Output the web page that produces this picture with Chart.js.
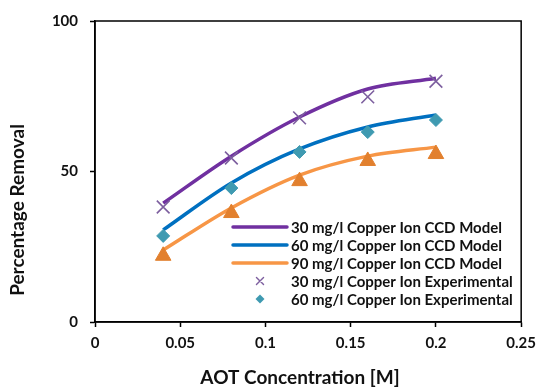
<!DOCTYPE html>
<html>
<head>
<meta charset="utf-8">
<script src="https://cdn.jsdelivr.net/npm/chart.js@4"></script>
<style>
  html, body { margin: 0; padding: 0; background: #fff; }
  #wrap { width: 543px; height: 388px; }
</style>
</head>
<body>
<div id="wrap"><canvas id="myChart"></canvas></div>
<script>
// AOT concentration [M]
var concentrations = [0.04, 0.08, 0.12, 0.16, 0.2];
// CCD model curves (percentage removal)
var model30 = [39.5, 55.1, 68.1, 77.4, 81.0];
var model60 = [30.6, 46.2, 57.5, 64.8, 68.8];
var model90 = [23.9, 37.9, 48.8, 55.1, 58.1];
// experimental points
var exp30 = [38.2, 54.5, 67.8, 74.8, 80.0];
var exp60 = [28.6, 44.5, 56.5, 63.1, 67.1];
var exp90 = [22.0, 36.2, 46.8, 53.5, 55.8];
var xTicks = [0, 0.05, 0.1, 0.15, 0.2, 0.25];
var yTicks = [0, 50, 100];
var seriesNames = ["30 mg/l Copper Ion CCD Model", "60 mg/l Copper Ion CCD Model", "90 mg/l Copper Ion CCD Model",
  "30 mg/l Copper Ion Experimental", "60 mg/l Copper Ion Experimental", "90 mg/l Copper Ion Experimental"];

var FONT = 'Lato, "Liberation Sans", sans-serif';

function pts(ys) {
  return concentrations.map(function (x, i) { return { x: x, y: ys[i] }; });
}

function lineSet(name, ys, color) {
  return { label: name, data: pts(ys), showLine: true, borderColor: color, backgroundColor: color,
    borderWidth: 3.5, tension: 0.33, pointRadius: 0, order: 5 };
}
function pointSet(name, ys, style, color, r) {
  return { label: name, data: pts(ys), showLine: false, pointStyle: style, pointRadius: r,
    borderColor: color, backgroundColor: color, pointBorderWidth: style == 'crossRot' ? 1.6 : 1, order: 1 };
}

// frame round the plot + axis titles + legend inside the plot
var extras = {
  id: 'extras',
  afterDraw: function (chart) {
    var ctx = chart.ctx, ca = chart.chartArea;
    ctx.save();
    ctx.strokeStyle = '#000';
    ctx.lineWidth = 1.5;
    ctx.strokeRect(ca.left, ca.top, ca.right - ca.left, ca.bottom - ca.top);

    ctx.fillStyle = '#111';
    ctx.font = 'bold 19px ' + FONT;
    ctx.textAlign = 'center';
    ctx.textBaseline = 'middle';
    ctx.fillText('AOT Concentration [M]', 300, 378);
    ctx.translate(18, 210);
    ctx.rotate(-Math.PI / 2);
    ctx.fillText('Percentage Removal', 0, 0);
    ctx.restore();

    // legend (90 mg/l experimental is not listed)
    ctx.save();
    ctx.font = 'bold 15px ' + FONT;
    ctx.textAlign = 'left';
    ctx.textBaseline = 'middle';
    var x0 = ca.left + 138, x1 = ca.left + 192, tx = ca.left + 196, cx = (x0 + x1) / 2;
    [0, 1, 2, 3, 4].forEach(function (di, row) {
      var ds = chart.data.datasets[di];
      var y = ca.top + 206 + row * 18;
      ctx.strokeStyle = ds.borderColor;
      ctx.fillStyle = ds.backgroundColor;
      if (ds.showLine) {
        ctx.lineWidth = 3.5;
        ctx.lineCap = 'round';
        ctx.beginPath();
        ctx.moveTo(x0, y);
        ctx.lineTo(x1, y);
        ctx.stroke();
      } else if (ds.pointStyle == 'crossRot') {
        var d = 5 * Math.SQRT1_2;
        ctx.lineWidth = 1.4;
        ctx.beginPath();
        ctx.moveTo(cx - d, y - d); ctx.lineTo(cx + d, y + d);
        ctx.moveTo(cx - d, y + d); ctx.lineTo(cx + d, y - d);
        ctx.stroke();
      } else {
        var r = 4.5;
        ctx.beginPath();
        ctx.moveTo(cx, y - r); ctx.lineTo(cx + r, y); ctx.lineTo(cx, y + r); ctx.lineTo(cx - r, y);
        ctx.closePath();
        ctx.fill();
      }
      ctx.fillStyle = '#111';
      ctx.fillText(ds.label, tx, y + 1);
    });
    ctx.restore();
  }
};

var ctx = document.getElementById('myChart');
var myChart = new Chart(ctx, {
  type: 'scatter',
  data: {
    datasets: [
      lineSet(seriesNames[0], model30, '#7030A0'),
      lineSet(seriesNames[1], model60, '#0070C0'),
      lineSet(seriesNames[2], model90, '#F79646'),
      pointSet(seriesNames[3], exp30, 'crossRot', '#7D5F9F', 9),
      pointSet(seriesNames[4], exp60, 'rectRot', '#3F9AB1', 6.5),
      pointSet(seriesNames[5], exp90, 'triangle', '#E2802E', 9)
    ]
  },
  options: {
    responsive: true,
    maintainAspectRatio: false,
    animation: false,
    layout: { padding: { top: 21, right: 19, bottom: 0, left: 0 } },
    plugins: { legend: { display: false }, tooltip: { enabled: false } },
    scales: {
      x: {
        type: 'linear', min: 0, max: 0.25,
        afterFit: function (s) { s.height = 66; },
        afterBuildTicks: function (s) { s.ticks = xTicks.map(function (v) { return { value: v }; }); },
        ticks: {
          color: '#111', padding: 7, maxRotation: 0,
          font: { family: FONT, size: 15, weight: 'bold' },
          callback: function (v) { return String(Number(v.toFixed(2))); }
        },
        grid: { drawOnChartArea: false, tickLength: 5, color: '#000', tickWidth: 1.5 },
        border: { display: true, color: '#000', width: 1.5 }
      },
      y: {
        min: 0, max: 100,
        afterFit: function (s) { s.width = 95; },
        afterBuildTicks: function (s) { s.ticks = yTicks.map(function (v) { return { value: v }; }); },
        ticks: {
          color: '#111', padding: 12,
          font: { family: FONT, size: 15, weight: 'bold' }
        },
        grid: { drawOnChartArea: false, tickLength: 5, color: '#000', tickWidth: 1.5 },
        border: { display: true, color: '#000', width: 1.5 }
      }
    }
  },
  plugins: [extras]
});
</script>
</body>
</html>
